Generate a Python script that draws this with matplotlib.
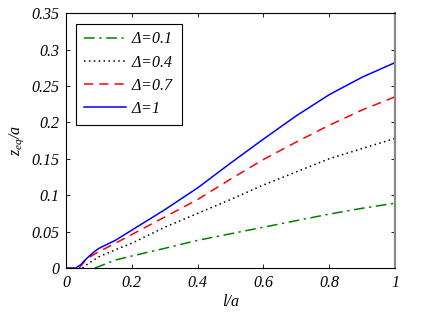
import numpy as np
import matplotlib
matplotlib.use('Agg')
import matplotlib.pyplot as plt

plt.rcParams['font.family'] = ['Liberation Serif', 'DejaVu Serif']
plt.rcParams['font.style'] = 'italic'
plt.rcParams['mathtext.fontset'] = 'custom'
plt.rcParams['mathtext.rm'] = 'Liberation Serif'
plt.rcParams['mathtext.it'] = 'Liberation Serif:italic'

# ── data ────────────────────────────────────────────────────────────────────
l_d01 = [0.088, 0.1, 0.15, 0.2, 0.3, 0.4, 0.5, 0.6, 0.7, 0.8, 0.9, 1.0]
z_d01 = [0.0, 0.002, 0.011, 0.0165, 0.027, 0.038, 0.047, 0.056, 0.065, 0.074, 0.082, 0.089]

l_d04 = [0.05, 0.061, 0.1, 0.15, 0.2, 0.3, 0.4, 0.5, 0.6, 0.7, 0.8, 0.9, 1.0]
z_d04 = [0.0, 0.004, 0.0155, 0.025, 0.034, 0.056, 0.075, 0.094, 0.114, 0.132, 0.150, 0.164, 0.178]

l_d07 = [0.04, 0.056, 0.075, 0.1, 0.15, 0.2, 0.3, 0.4, 0.5, 0.6, 0.7, 0.8, 0.9, 1.0]
z_d07 = [0.0, 0.0087, 0.016, 0.0225, 0.034, 0.046, 0.070, 0.094, 0.122, 0.149, 0.173, 0.196, 0.217, 0.235]

l_d1 = [0.0, 0.03, 0.046, 0.058, 0.071, 0.085, 0.1, 0.15, 0.2, 0.3, 0.4,
        0.5, 0.6, 0.7, 0.8, 0.9, 1.0]
z_d1 = [0.0, 0.0, 0.005, 0.011, 0.0165, 0.022, 0.027, 0.038, 0.052, 0.080, 0.110,
        0.144, 0.177, 0.209, 0.238, 0.262, 0.282]

labels = [r'$\mathrm{\Delta}$=0.1', r'$\mathrm{\Delta}$=0.4',
          r'$\mathrm{\Delta}$=0.7', r'$\mathrm{\Delta}$=1']
xticks = [0, 0.2, 0.4, 0.6, 0.8, 1]
xticklabels = ['0', '0.2', '0.4', '0.6', '0.8', '1']
yticks = [0, 0.05, 0.1, 0.15, 0.2, 0.25, 0.3, 0.35]
yticklabels = ['0', '0.05', '0.1', '0.15', '0.2', '0.25', '0.3', '0.35']

# ── plot ────────────────────────────────────────────────────────────────────
fig = plt.figure(figsize=(4.36, 3.2), dpi=100)
ax = fig.add_axes([0.1514, 0.1625, 0.7546, 0.7965])

ax.plot(l_d01, z_d01, color='#008000', lw=1.1, ls=(0, (7, 3, 1.5, 3)), label=labels[0])
ax.plot(l_d04, z_d04, color='black', lw=1.1, ls=(0, (1, 2.2)), label=labels[1])
ax.plot(l_d07, z_d07, color='red', lw=1.1, ls=(0, (6, 4)), label=labels[2])
ax.plot(l_d1, z_d1, color='blue', lw=1.1, ls='-', label=labels[3])

ax.set_xlim(0, 1)
ax.set_ylim(0, 0.35)
ax.set_xticks(xticks)
ax.set_xticklabels(xticklabels, fontstyle='italic')
ax.set_yticks(yticks)
ax.set_yticklabels(yticklabels, fontstyle='italic')
ax.tick_params(direction='in', top=True, right=True, length=3, width=0.6,
               labelsize=11.5, pad=5)
for s in ax.spines.values():
    s.set_linewidth(0.8)
ax.spines['right'].set_color('#888888')
ax.spines['right'].set_linewidth(1.6)

ax.set_xlabel('l/a', fontsize=11.5, labelpad=2)
ax.set_ylabel(r'$z_{eq}$/a', fontsize=11.5, labelpad=4)

leg = ax.legend(loc='upper left', fontsize=11.5, handlelength=2.6,
                borderaxespad=0.65, fancybox=False, edgecolor='black',
                framealpha=1, borderpad=0.5, labelspacing=0.45,
                handletextpad=0.3)
leg.get_frame().set_linewidth(0.8)

fig.savefig('out.png', dpi=100)
